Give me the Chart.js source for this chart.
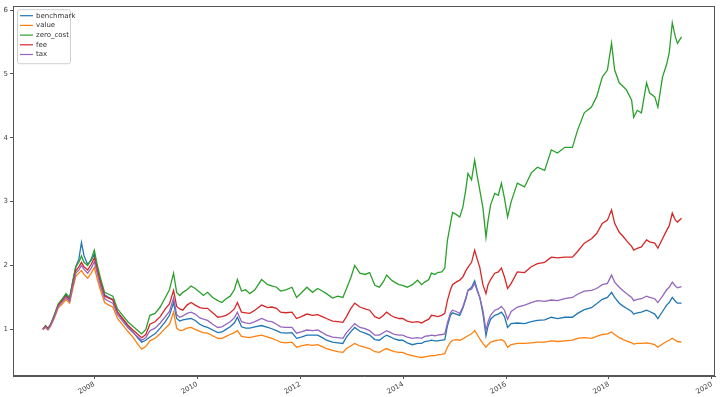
<!DOCTYPE html>
<html><head><meta charset="utf-8">
<script src="https://cdn.jsdelivr.net/npm/chart.js@4.4.1/dist/chart.umd.min.js"></script>
<style>html,body{margin:0;padding:0;background:#fff;}#wrap{width:720px;height:397px;position:relative;}</style>
</head><body><div id="wrap"><canvas id="c" width="720" height="397"></canvas></div>
<script>
const dates = [2007.00,2007.05,2007.10,2007.15,2007.22,2007.30,2007.38,2007.45,2007.52,2007.58,2007.64,2007.70,2007.75,2007.80,2007.87,2007.94,
2008.00,2008.06,2008.12,2008.20,2008.28,2008.36,2008.45,2008.55,2008.65,2008.75,2008.85,2008.92,
2009.00,2009.08,2009.18,2009.28,2009.38,2009.46,2009.54,2009.60,2009.66,2009.72,2009.80,2009.88,2009.96,
2010.05,2010.12,2010.20,2010.30,2010.40,2010.48,2010.56,2010.64,2010.72,2010.78,2010.86,2010.94,
2011.02,2011.12,2011.25,2011.37,2011.45,2011.54,2011.62,2011.72,2011.84,2011.93,
2012.02,2012.13,2012.24,2012.34,2012.43,2012.51,2012.63,2012.73,2012.83,2012.90,2012.98,
2013.06,2013.16,2013.26,2013.35,2013.45,2013.54,2013.62,2013.68,2013.76,2013.83,2013.92,2013.99,
2014.08,2014.18,2014.28,2014.36,2014.42,2014.50,2014.55,2014.62,2014.67,2014.75,2014.81,2014.86,2014.92,2014.96,
2015.03,2015.10,2015.16,2015.22,2015.26,2015.33,2015.39,2015.44,2015.49,2015.55,2015.61,2015.65,2015.70,2015.78,2015.85,2015.91,2015.97,
2016.03,2016.10,2016.22,2016.36,2016.49,2016.61,2016.75,2016.88,
2017.00,2017.14,2017.29,2017.39,2017.52,2017.66,2017.76,2017.87,2017.97,
2018.05,2018.11,2018.20,2018.28,2018.34,2018.44,2018.48,2018.55,2018.63,2018.73,2018.79,2018.89,2018.95,
2019.04,2019.12,2019.17,2019.23,2019.29,2019.33,2019.41];

const zero_cost = [1.00,1.06,1.02,1.08,1.22,1.40,1.48,1.56,1.50,1.75,1.98,2.05,2.15,2.05,2.00,2.10,
2.24,2.00,1.80,1.58,1.55,1.52,1.32,1.22,1.12,1.05,0.98,0.93,
1.00,1.22,1.25,1.35,1.50,1.62,1.88,1.58,1.53,1.58,1.62,1.68,1.64,
1.58,1.53,1.58,1.50,1.45,1.42,1.48,1.52,1.62,1.78,1.60,1.62,
1.56,1.62,1.78,1.70,1.68,1.66,1.60,1.62,1.66,1.50,
1.57,1.66,1.58,1.64,1.60,1.56,1.49,1.52,1.50,1.64,1.80,
2.00,1.88,1.86,1.89,1.69,1.66,1.75,1.85,1.78,1.74,1.70,1.69,
1.66,1.70,1.77,1.70,1.74,1.78,1.88,1.86,1.89,1.90,1.96,2.39,2.65,2.83,
2.80,2.76,2.91,3.20,3.44,3.34,3.65,3.40,3.18,2.91,2.44,2.70,2.95,3.13,3.10,3.29,3.05,
2.76,3.00,3.29,3.23,3.45,3.54,3.49,3.81,
3.76,3.85,3.85,4.12,4.39,4.48,4.64,4.95,5.06,
5.48,5.06,4.86,4.80,4.75,4.59,4.32,4.43,4.39,4.86,4.70,4.64,4.48,
4.95,5.15,5.33,5.80,5.58,5.48,5.58];

const fee = [1.00,1.05,1.01,1.07,1.20,1.38,1.45,1.52,1.46,1.70,1.92,1.98,2.05,1.98,1.93,2.02,
2.12,1.92,1.73,1.52,1.49,1.46,1.27,1.17,1.07,0.99,0.92,0.87,
0.92,1.08,1.12,1.20,1.32,1.40,1.61,1.36,1.32,1.30,1.38,1.42,1.38,
1.34,1.33,1.33,1.26,1.19,1.20,1.22,1.26,1.32,1.42,1.27,1.26,
1.25,1.30,1.38,1.34,1.35,1.33,1.27,1.26,1.27,1.17,
1.20,1.24,1.22,1.23,1.20,1.17,1.13,1.12,1.11,1.20,1.32,
1.41,1.35,1.32,1.30,1.20,1.17,1.22,1.27,1.22,1.19,1.17,1.17,
1.13,1.11,1.12,1.10,1.13,1.16,1.22,1.21,1.20,1.22,1.25,1.45,1.62,1.70,
1.74,1.77,1.82,1.92,1.97,2.05,2.24,2.10,1.97,1.70,1.56,1.70,1.78,1.88,1.90,1.96,1.82,
1.64,1.72,1.90,1.89,1.98,2.03,2.05,2.13,
2.12,2.13,2.13,2.22,2.35,2.42,2.50,2.66,2.71,
2.87,2.66,2.52,2.45,2.39,2.30,2.24,2.27,2.29,2.40,2.37,2.35,2.27,
2.42,2.55,2.62,2.82,2.71,2.68,2.74];

const tax = [1.00,1.04,1.00,1.06,1.19,1.36,1.43,1.50,1.44,1.67,1.88,1.93,2.00,1.94,1.88,1.96,
2.06,1.86,1.68,1.48,1.44,1.41,1.23,1.13,1.03,0.95,0.88,0.83,
0.87,0.98,1.02,1.10,1.20,1.28,1.49,1.23,1.19,1.21,1.25,1.27,1.24,
1.18,1.16,1.14,1.08,1.03,1.04,1.08,1.12,1.18,1.27,1.12,1.10,
1.09,1.12,1.17,1.13,1.12,1.08,1.04,1.03,1.03,0.94,
0.96,0.99,0.98,0.99,0.95,0.91,0.88,0.87,0.86,0.95,1.02,
1.09,1.03,1.01,0.98,0.91,0.91,0.95,0.98,0.95,0.92,0.91,0.91,
0.88,0.86,0.87,0.86,0.89,0.90,0.91,0.90,0.91,0.92,0.93,1.10,1.26,1.30,
1.28,1.25,1.35,1.50,1.61,1.63,1.72,1.60,1.50,1.30,0.98,1.12,1.22,1.30,1.32,1.36,1.30,
1.16,1.28,1.35,1.38,1.42,1.45,1.44,1.46,
1.45,1.48,1.50,1.55,1.60,1.61,1.64,1.70,1.72,
1.85,1.74,1.66,1.60,1.56,1.50,1.45,1.47,1.48,1.52,1.50,1.48,1.42,
1.52,1.62,1.66,1.74,1.68,1.65,1.67];

const benchmark = [1.00,1.05,1.01,1.07,1.21,1.39,1.47,1.54,1.48,1.74,1.98,2.10,2.36,2.15,2.02,2.08,
2.18,1.95,1.75,1.54,1.50,1.47,1.27,1.16,1.05,0.96,0.86,0.80,
0.83,0.88,0.93,1.02,1.12,1.22,1.42,1.17,1.13,1.15,1.16,1.17,1.14,
1.08,1.05,1.03,0.99,0.95,0.96,1.00,1.04,1.10,1.19,1.04,1.02,
1.02,1.04,1.06,1.03,1.01,0.98,0.95,0.94,0.95,0.86,
0.88,0.91,0.91,0.91,0.87,0.83,0.80,0.79,0.78,0.88,0.96,
1.03,0.97,0.94,0.91,0.84,0.83,0.88,0.91,0.88,0.85,0.83,0.83,
0.79,0.76,0.78,0.78,0.81,0.82,0.83,0.82,0.82,0.83,0.84,1.05,1.22,1.26,
1.24,1.22,1.33,1.48,1.61,1.66,1.76,1.62,1.50,1.25,0.90,1.05,1.16,1.22,1.24,1.27,1.20,
1.03,1.09,1.10,1.09,1.12,1.14,1.15,1.19,
1.17,1.19,1.19,1.25,1.31,1.34,1.40,1.47,1.50,
1.58,1.50,1.41,1.36,1.33,1.28,1.24,1.26,1.27,1.30,1.28,1.24,1.17,
1.28,1.38,1.42,1.50,1.44,1.41,1.41];

const value = [1.00,1.03,0.99,1.05,1.17,1.34,1.40,1.47,1.41,1.63,1.83,1.88,1.92,1.86,1.80,1.88,
1.97,1.78,1.61,1.42,1.38,1.35,1.17,1.07,0.97,0.88,0.76,0.69,
0.73,0.82,0.86,0.93,1.02,1.08,1.27,1.02,0.98,0.99,1.02,1.03,1.00,
0.97,0.95,0.94,0.90,0.86,0.86,0.89,0.92,0.95,0.98,0.89,0.88,
0.87,0.89,0.91,0.88,0.86,0.83,0.80,0.79,0.80,0.72,
0.74,0.76,0.75,0.76,0.73,0.70,0.67,0.65,0.64,0.70,0.74,
0.78,0.74,0.72,0.70,0.65,0.64,0.68,0.70,0.67,0.65,0.64,0.64,
0.61,0.59,0.57,0.56,0.57,0.58,0.59,0.59,0.60,0.61,0.62,0.72,0.80,0.83,
0.84,0.83,0.85,0.88,0.90,0.93,0.98,0.92,0.85,0.78,0.72,0.76,0.80,0.82,0.83,0.84,0.81,
0.72,0.76,0.78,0.78,0.79,0.80,0.80,0.82,
0.81,0.82,0.83,0.86,0.87,0.86,0.89,0.92,0.93,
0.96,0.92,0.87,0.84,0.82,0.79,0.77,0.78,0.78,0.79,0.78,0.76,0.72,
0.77,0.81,0.83,0.86,0.83,0.81,0.80];

const seriesNames = ['benchmark','value','zero_cost','fee','tax'];
const seriesValues = [benchmark, value, zero_cost, fee, tax];
const seriesColors = ['#1f77b4','#ff7f0e','#2ca02c','#d62728','#9467bd'];
const xTicks = [2008,2010,2012,2014,2016,2018,2020];
const yTicks = [1,2,3,4,5,6];

const datasets = seriesNames.map((name,i)=>({
  label: name,
  data: dates.map((d,k)=>({x:d, y:seriesValues[i][k]})),
  borderColor: seriesColors[i],
  backgroundColor: seriesColors[i],
  borderWidth: 1.3,
  pointRadius: 0,
  tension: 0,
  order: seriesNames.length - i
}));

const frameAndLegend = {
  id: 'frameAndLegend',
  afterDraw(chart){
    const ctx = chart.ctx, a = chart.chartArea;
    ctx.save();
    ctx.strokeStyle = '#555';
    ctx.lineWidth = 1;
    ctx.strokeRect(Math.round(a.left)+0.5, Math.round(a.top)+0.5, Math.round(a.right-a.left)-1, Math.round(a.bottom-a.top)-1);
    const x0 = a.left + 4, y0 = a.top + 3, w = 53, h = 54;
    ctx.fillStyle = 'rgba(255,255,255,0.8)';
    ctx.strokeStyle = '#d0d0d0';
    ctx.beginPath();
    if (ctx.roundRect) ctx.roundRect(x0+0.5, y0+0.5, w, h, 2); else ctx.rect(x0+0.5,y0+0.5,w,h);
    ctx.fill(); ctx.stroke();
    ctx.font = '7px "DejaVu Sans", sans-serif';
    ctx.textBaseline = 'middle';
    chart.data.datasets.forEach((ds,i)=>{
      const yy = y0 + 6.5 + i*9.7;
      ctx.strokeStyle = ds.borderColor;
      ctx.lineWidth = 1.2;
      ctx.beginPath(); ctx.moveTo(x0+3, yy); ctx.lineTo(x0+16, yy); ctx.stroke();
      ctx.fillStyle = '#333';
      ctx.fillText(ds.label, x0+19, yy);
    });
    ctx.restore();
  }
};

new Chart(document.getElementById('c'), {
  type: 'line',
  data: { datasets },
  options: {
    responsive: false,
    animation: false,
    events: [],
    layout: { padding: { left: 0, right: 5, top: 6, bottom: 0 } },
    plugins: { legend: { display: false }, tooltip: { enabled: false } },
    scales: {
      x: {
        type: 'linear', min: 2006.42, max: 2020.06,
        afterBuildTicks: s => { s.ticks = xTicks.map(v=>({value:v})); },
        afterFit: s => { s.height = 21; },
        ticks: { maxRotation: 30, minRotation: 30, autoSkip: false, padding: 1,
          font: { family: 'DejaVu Sans', size: 7 }, color: '#444',
          callback: v => String(v) },
        grid: { drawOnChartArea: false, drawTicks: true, tickLength: 3, color: '#555' },
        border: { color: '#555' }
      },
      y: {
        type: 'linear', min: 0.27, max: 6.06,
        afterBuildTicks: s => { s.ticks = yTicks.map(v=>({value:v})); },
        afterFit: s => { s.width = 13; },
        ticks: { padding: 2, font: { family: 'DejaVu Sans', size: 7 }, color: '#444',
          callback: v => String(v) },
        grid: { drawOnChartArea: false, drawTicks: true, tickLength: 3, color: '#555' },
        border: { color: '#555' }
      }
    }
  },
  plugins: [frameAndLegend]
});
</script>
</body></html>
